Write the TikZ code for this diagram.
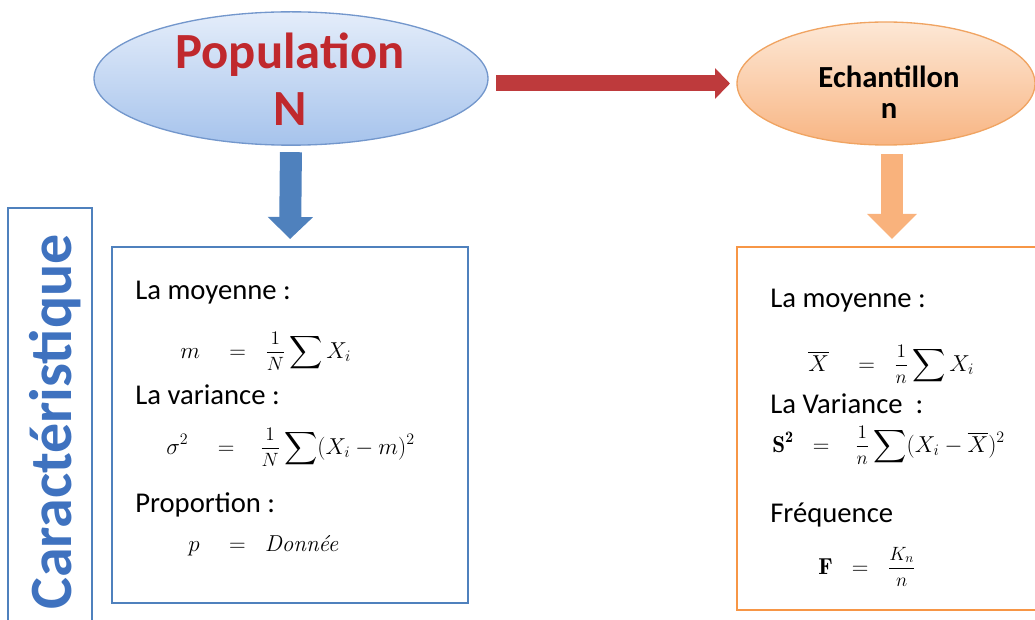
\documentclass[tikz,border=0pt]{standalone}
\usepackage{amsmath}
\usepackage{fontspec}
\newfontfamily\calfont{Carlito}
\usetikzlibrary{arrows.meta,shapes.geometric,calc}
\newcommand{\smallfrac}[2]{\raisebox{0.7pt}{\fontsize{14.4}{16}\selectfont$\displaystyle\frac{#1}{#2}$}}
\definecolor{bluebox}{HTML}{4F81BD}
\definecolor{orangebox}{HTML}{F79646}
\definecolor{popred}{HTML}{C0282D}
\definecolor{cartblue}{HTML}{3F72BF}
\definecolor{poptop}{HTML}{E4EDFA}
\definecolor{popbot}{HTML}{A6C3EC}
\definecolor{popline}{HTML}{7397CC}
\definecolor{echtop}{HTML}{FDE8D6}
\definecolor{echbot}{HTML}{F8B583}
\definecolor{echline}{HTML}{F0A462}
\definecolor{arrred}{HTML}{BE3A3C}
\definecolor{arrblue}{HTML}{4F81BD}
\definecolor{arrorange}{HTML}{F9B27C}
\begin{document}
\begin{tikzpicture}[x=0.75pt,y=-0.75pt,
  oval/.style={ellipse, inner sep=0pt, outer sep=0pt, line width=1pt},
  boxframe/.style={rectangle, draw, line width=1.6pt, inner sep=0pt, outer sep=0pt},
  bodytext/.style={anchor=base west, inner sep=0pt, font=\calfont\fontsize{21.5}{26}\selectfont},
  formula/.style={anchor=base west, inner sep=0pt, font=\fontsize{17.28}{20}\selectfont},
  redarrow/.style={draw=arrred, line width=12pt, -{Triangle[width=22.5pt,length=11.25pt]}},
  bluearrow/.style={draw=arrblue, line width=16.5pt, -{Triangle[width=33pt,length=16.5pt]}},
  orangearrow/.style={draw=arrorange, line width=16.5pt, -{Triangle[width=36pt,length=18.75pt]}}
]
\useasboundingbox (0,0) rectangle (1035,620);

% ellipses
\node[oval, draw=popline, top color=poptop, bottom color=popbot,
      minimum width=295.5pt, minimum height=100pt] (pop) at (291,78.5) {};
\node[align=center, inner sep=0pt, text=popred,
      font=\calfont\bfseries\fontsize{38}{43}\selectfont] (poptext) at (290,79) {Population\\N};

\node[oval, draw=echline, top color=echtop, bottom color=echbot,
      minimum width=223.5pt, minimum height=92.25pt] (ech) at (886,83.5) {};
\node[align=center, inner sep=0pt,
      font=\calfont\bfseries\fontsize{23}{23}\selectfont] (echtext) at (889,92) {Echantillon\\n};

% boxes
\node[boxframe, draw=bluebox, minimum width=63pt, minimum height=321pt] (cbox) at (50,422) {};
\node[rotate=90, inner sep=0pt, text=cartblue,
      font=\calfont\bfseries\fontsize{45}{50}\selectfont] (ctext) at (55,422) {Caractéristique};
\node[boxframe, draw=bluebox, minimum width=267pt, minimum height=267pt] (lbox) at (290,425) {};
\node[boxframe, draw=orangebox, minimum width=232.5pt, minimum height=272.25pt] (rbox) at (892,428.5) {};

% arrows
\draw[redarrow, shorten <=6pt, shorten >=5.25pt] (pop.east |- ech.west) -- (ech.west);
\draw[bluearrow, shorten <=5.25pt, shorten >=6pt] (pop.south) -- (lbox.north);
\draw[orangearrow, shorten <=6.75pt, shorten >=6pt] (ech.south -| rbox.north) -- (rbox.north);

% left box content
\node[bodytext] (l1) at (135,300) {La moyenne :};
\node[formula] (f1) at (180,358) {$\displaystyle m\quad=\;\;\smallfrac{1}{N}\sum X_i$};
\node[bodytext] (l2) at (135,404) {La variance :};
\node[formula] (f2) at (166,454) {$\displaystyle \sigma^2\quad=\;\;\;\smallfrac{1}{N}\sum(X_i-m)^2$};
\node[bodytext] (l3) at (135,512) {Proportion :};
\node[formula] (f3) at (188,551) {$p\quad=\;\;\textit{Donnée}$};

% right box content
\node[bodytext] (r1) at (770,308) {La moyenne :};
\node[formula] (g1) at (808,371) {$\displaystyle \overline{X}\quad=\;\;\smallfrac{1}{n}\sum X_i$};
\node[bodytext] (r2) at (770,413) {La Variance~ :};
\node[formula] (g2) at (772,452) {$\displaystyle \mathbf{S^2}\;\;=\;\;\;\smallfrac{1}{n}\sum(X_i-\overline{X})^2$};
\node[bodytext] (r3) at (770,522) {Fréquence};
\node[formula] (g3) at (818,574) {$\displaystyle \mathbf{F}\;\;=\;\;\smallfrac{K_n}{n}$};
\end{tikzpicture}
\end{document}
